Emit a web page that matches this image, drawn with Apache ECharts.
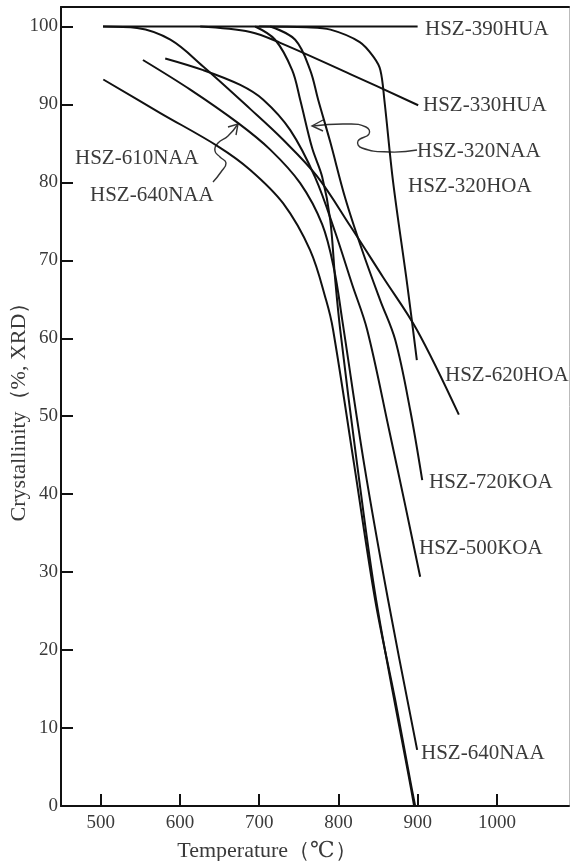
<!DOCTYPE html>
<html><head><meta charset="utf-8">
<script src="https://cdn.jsdelivr.net/npm/echarts@6/dist/echarts.min.js"></script>
<style>html,body{margin:0;padding:0;background:#fff}#c{width:575px;height:861px}</style>
</head><body><div id="c"></div>
<script>
// tick labels
const xTicks = [500, 600, 700, 800, 900, 1000];
const yTicks = [0, 10, 20, 30, 40, 50, 60, 70, 80, 90, 100];

// series: [temperature (°C), crystallinity (%)]
const hsz390HUA = [[503,100],[900,100]];
const hsz330HUA = [[625.7,100],[688.8,99.3],[726.6,97.9],[814.9,93.9],[900.7,89.9]];
const hsz320HOA = [[700,100],[760,99.9],[790,99.6],[827,98],[845,96],[853,94.4],[858,90.6],[869,80.1],[887,66.8],[899,57.2]];
const hsz620HOA = [[503,100],[546,99.8],[588,98.3],[629,94.9],[689,89.4],[730,85.5],[773,80.8],[815,74.4],[856,67.9],[899,61.1],[952,50.2]];
const hsz610NAA = [[503.4,93.2],[575.3,88.9],[648.5,84.6],[688.8,81.6],[730.4,77.3],[764.3,71.3],[784.5,64.9],[793.3,61.1],[819.9,43.8],[846.5,26.4],[871.7,13.6],[890.6,3.3],[896.9,0]];
const hsz640NAA = [[553.4,95.7],[613.1,91.9],[673.6,87.6],[714,84.2],[751.8,79.9],[779.6,74.6],[794.7,68.8],[804.8,62.4],[832.6,43.8],[862.8,26.4],[899.4,7.2]];
const hsz500KOA = [[581.5,95.9],[629.5,94.4],[676.2,92.5],[705.2,90.6],[739.3,86.7],[770.8,80.6],[796,73.6],[817.4,66.9],[836.3,61.1],[864.1,48.2],[884.3,38.6],[903.2,29.4]];
const hsz720KOA = [[714,100],[745.5,98.3],[764.4,94.4],[774.5,90.6],[789.7,85.2],[808.6,78],[830,71.3],[852.7,64.9],[871.7,59.8],[890.6,50.8],[905.8,41.8]];
const hsz320NAA = [[695,100],[720.2,98.3],[741.7,94.4],[751.8,90.6],[766.9,84.4],[779.6,80.7],[789.7,75.2],[796,67.5],[802.3,61.1],[823.7,43.8],[847.7,26.4],[891.9,2.1],[895.6,0]];

const curves = [
  ['HSZ-390HUA', hsz390HUA], ['HSZ-330HUA', hsz330HUA], ['HSZ-320HOA', hsz320HOA],
  ['HSZ-620HOA', hsz620HOA], ['HSZ-610NAA', hsz610NAA], ['HSZ-640NAA', hsz640NAA],
  ['HSZ-500KOA', hsz500KOA], ['HSZ-720KOA', hsz720KOA], ['HSZ-320NAA', hsz320NAA]
];

const FONT = '"Liberation Serif", "DejaVu Serif", serif';
const INK = '#111';
const TXT = '#3a3a3a';

const labels = [
  ['HSZ-390HUA', 425, 29], ['HSZ-330HUA', 423, 105], ['HSZ-320NAA', 417, 151],
  ['HSZ-320HOA', 408, 186], ['HSZ-610NAA', 75, 158], ['HSZ-640NAA', 90, 195],
  ['HSZ-620HOA', 445, 375], ['HSZ-720KOA', 429, 482], ['HSZ-500KOA', 419, 548],
  ['HSZ-640NAA', 421, 753]
];

const chart = echarts.init(document.getElementById('c'), null, {renderer: 'canvas'});

const graphics = labels.map(([t, x, y]) => ({
  type: 'text', x: x, y: y, silent: true,
  style: {text: t, font: '21px ' + FONT, fill: TXT, verticalAlign: 'middle', align: 'left'}
}));
// curly leader for HSZ-320NAA
graphics.push({type: 'polyline', silent: true,
  shape: {points: [[417,150],[390,152],[362,148],[358,141],[369,134],[366,127],[347,124],[313,126]], smooth: 0.5},
  style: {stroke: '#333', lineWidth: 1.4, fill: null}});
graphics.push({type: 'polyline', silent: true,
  shape: {points: [[323,120],[312,126],[323,131]]},
  style: {stroke: '#333', lineWidth: 1.4, fill: null}});
// curly leader for HSZ-640NAA (left)
graphics.push({type: 'polyline', silent: true,
  shape: {points: [[213,182],[221,172],[226,163],[220,157],[215,151],[218,143],[228,136],[238,124]], smooth: 0.5},
  style: {stroke: '#333', lineWidth: 1.4, fill: null}});
graphics.push({type: 'polyline', silent: true,
  shape: {points: [[228,127],[238,124],[236,135]]},
  style: {stroke: '#333', lineWidth: 1.4, fill: null}});

const option = {
  animation: false,
  backgroundColor: '#fff',
  grid: {left: 61, right: 6, top: 7, bottom: 55, containLabel: false, outerBoundsMode: 'none'},
  xAxis: [{
    type: 'value', min: 450, max: 1091, position: 'bottom',
    axisLine: {onZero: false, lineStyle: {color: INK, width: 2}},
    axisTick: {inside: true, length: 12, customValues: xTicks, lineStyle: {color: INK, width: 2}},
    axisLabel: {customValues: xTicks, margin: 8, color: TXT, fontFamily: FONT, fontSize: 19, formatter: v => String(v)},
    splitLine: {show: false},
    name: 'Temperature（℃）', nameLocation: 'middle', nameGap: 34, nameMoveOverlap: false,
    nameTextStyle: {fontFamily: FONT, fontSize: 22, color: TXT, padding: [0, 96, 0, 0]}
  }, {
    type: 'value', min: 450, max: 1091, position: 'top',
    axisLine: {onZero: false, lineStyle: {color: INK, width: 2}},
    axisTick: {show: false}, axisLabel: {show: false}, splitLine: {show: false}
  }],
  yAxis: [{
    type: 'value', min: 0, max: 102.5, position: 'left',
    axisLine: {onZero: false, lineStyle: {color: INK, width: 2}},
    axisTick: {inside: true, length: 12, customValues: yTicks, lineStyle: {color: INK, width: 2}},
    axisLabel: {customValues: yTicks, margin: 3, color: TXT, fontFamily: FONT, fontSize: 19, formatter: v => String(v)},
    splitLine: {show: false},
    name: 'Crystallinity（%, XRD）', nameLocation: 'middle', nameGap: 31, nameMoveOverlap: false,
    nameTextStyle: {fontFamily: FONT, fontSize: 22, color: TXT}
  }, {
    type: 'value', min: 0, max: 102.5, position: 'right',
    axisLine: {onZero: false, lineStyle: {color: '#bbb', width: 1}},
    axisTick: {show: false}, axisLabel: {show: false}, splitLine: {show: false}
  }],
  series: curves.map(([name, data]) => ({
    type: 'line', name: name, data: data, smooth: 0.35, symbol: 'none',
    lineStyle: {color: INK, width: 2}, clip: false, silent: true
  })),
  graphic: graphics
};
chart.setOption(option);
</script>
</body></html>
